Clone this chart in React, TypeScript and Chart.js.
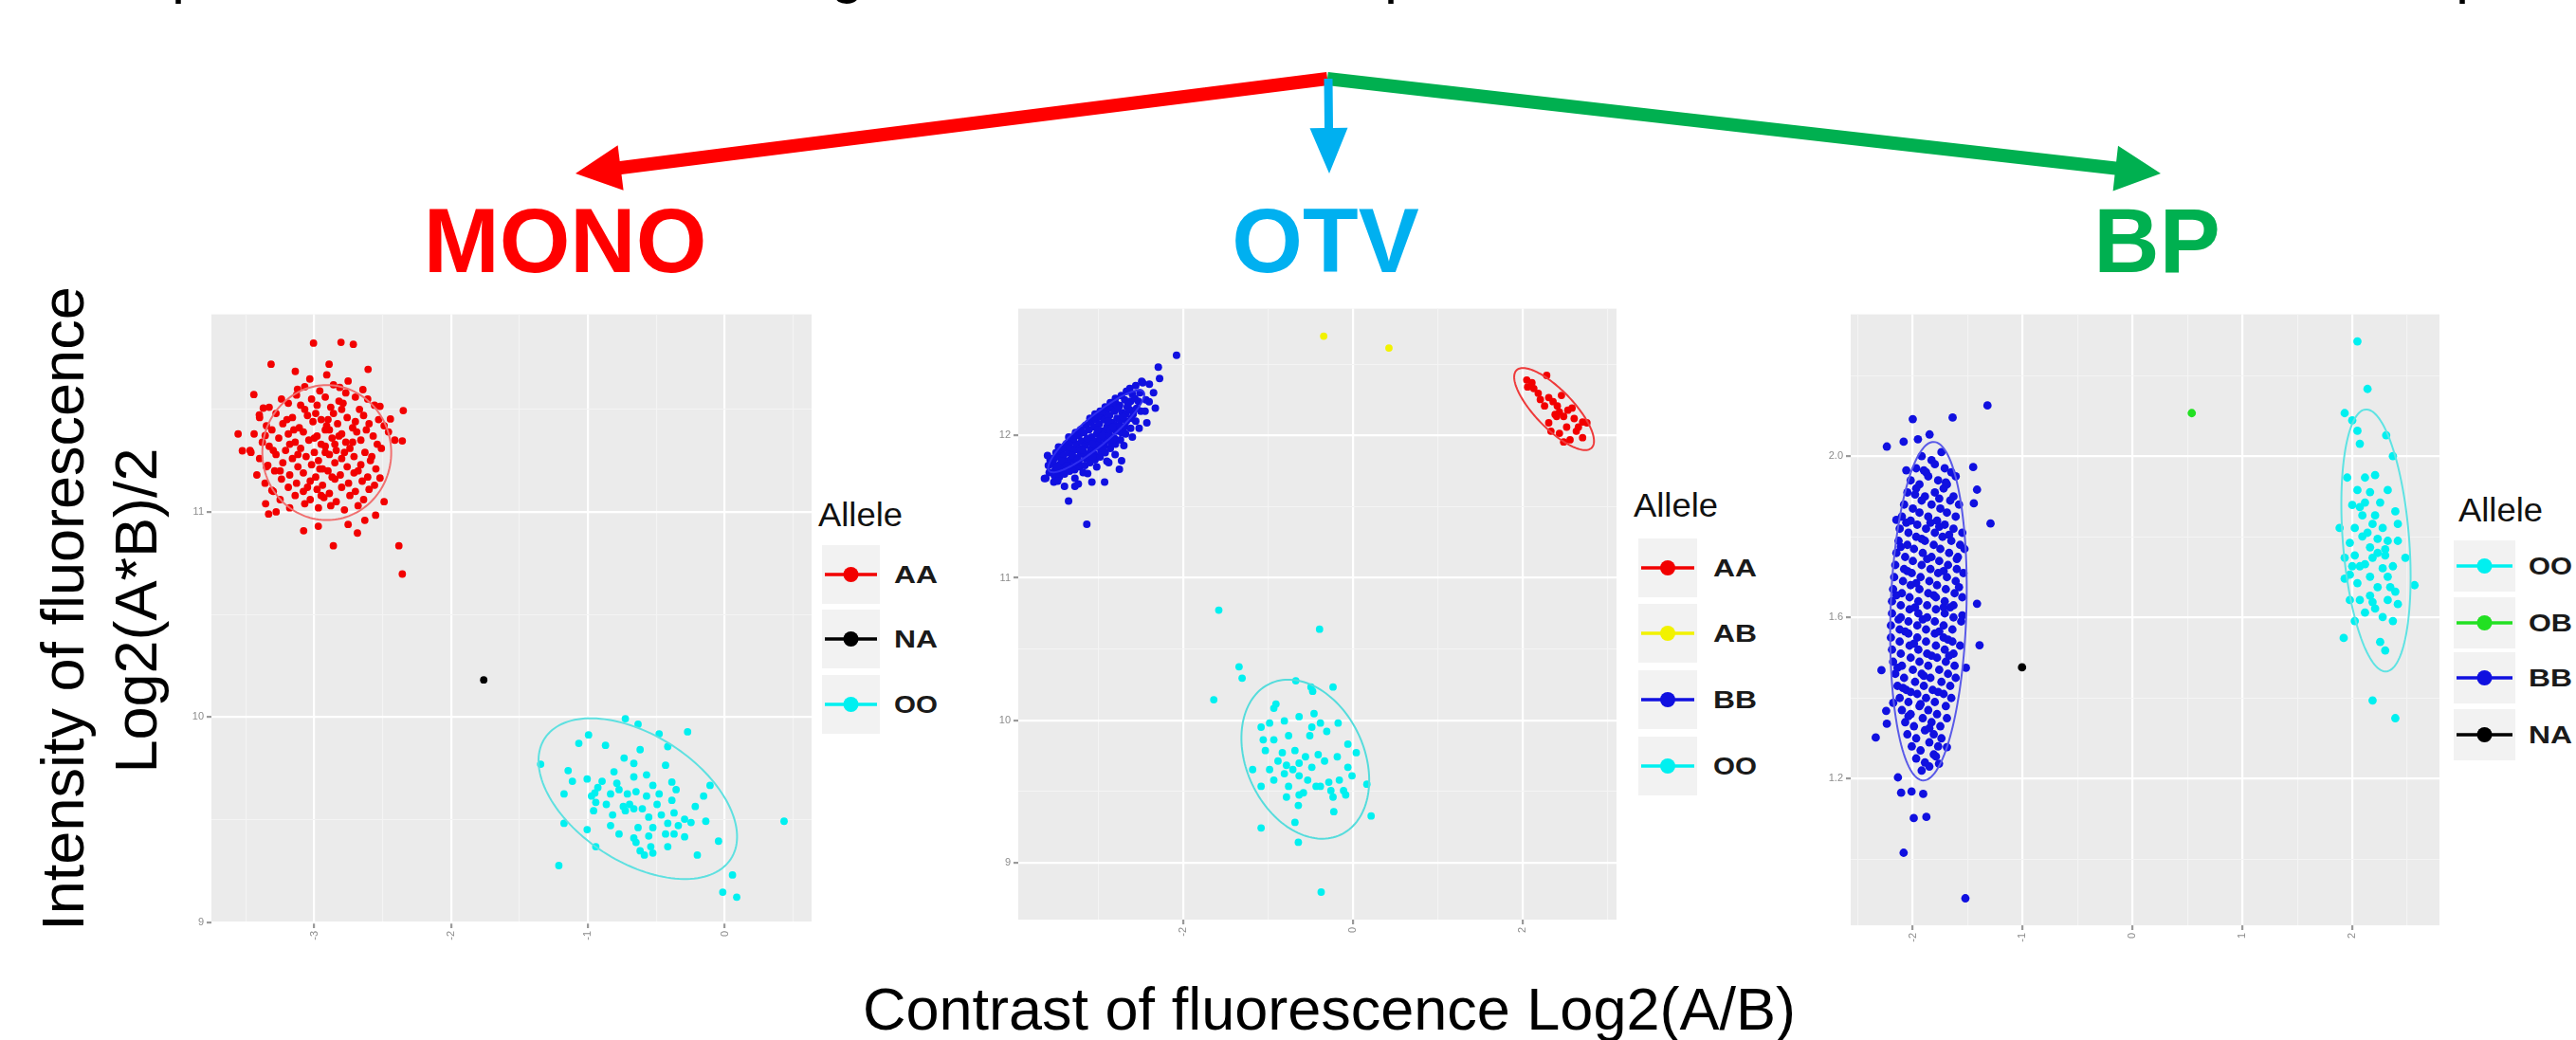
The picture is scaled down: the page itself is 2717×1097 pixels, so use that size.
import React, { useEffect, useRef } from "react";
import { Chart, registerables } from "chart.js";

Chart.register(...registerables);

type Pt = [number, number];
const FONT = "'Liberation Sans', Arial, Helvetica, sans-serif";
Chart.defaults.font.family = FONT;

// ======================= DATA =======================
// ---------- MONO ----------
const MONO_X_RANGE = [-3.752, 0.634];
const MONO_Y_RANGE = [8.994, 11.963];
const MONO_X_MAJOR = [-3, -2, -1, 0];
const MONO_X_MINOR = [-3.5, -2.5, -1.5, -0.5, 0.5];
const MONO_X_LABELS = ["-3", "-2", "-1", "0"];
const MONO_Y_MAJOR = [9, 10, 11];
const MONO_Y_MINOR = [9.5, 10.5, 11.5];
const MONO_Y_LABELS = ["9", "10", "11"];

const MONO_AA: Pt[] = [
  [-3.006, 11.823], [-2.805, 11.827], [-2.715, 11.817], [-3.316, 11.72], [-3.139, 11.685], [-2.607, 11.695],
  [-3.442, 11.572], [-3.557, 11.38], [-2.35, 11.494], [-2.357, 11.346], [-3.334, 10.99], [-3.078, 10.908],
  [-2.861, 10.835], [-2.685, 10.897], [-2.552, 10.984], [-2.49, 11.05], [-2.52, 11.165], [-3.526, 11.298],
  [-3.402, 11.473], [-2.382, 10.835], [-2.357, 10.697],
  [-2.892, 11.72], [-2.753, 11.638], [-2.645, 11.596], [-2.52, 11.515], [-2.444, 11.453], [-2.458, 11.39],
  [-2.412, 11.35], [-3.373, 11.506], [-3.359, 11.372], [-3.463, 11.29], [-3.34, 11.227], [-3.31, 11.105],
  [-3.356, 11.04], [-3.279, 11.0], [-2.971, 10.93], [-2.753, 10.939], [-2.631, 10.959], [-2.909, 11.668],
  [-3.033, 11.648], [-2.814, 11.607], [-3.123, 11.598],
  [-3.07, 11.61], [-2.96, 11.59], [-2.86, 11.62], [-2.77, 11.58],
  [-3.24, 11.55], [-3.13, 11.57], [-3.02, 11.55], [-2.92, 11.56], [-2.82, 11.54], [-2.7, 11.56], [-2.61, 11.55],
  [-3.33, 11.51], [-3.19, 11.53], [-3.07, 11.5], [-2.98, 11.52], [-2.88, 11.51], [-2.79, 11.53], [-2.67, 11.5], [-2.56, 11.52],
  [-3.4, 11.46], [-3.28, 11.48], [-3.16, 11.46], [-3.05, 11.47], [-2.95, 11.45], [-2.86, 11.48], [-2.76, 11.46], [-2.64, 11.47], [-2.53, 11.45],
  [-3.35, 11.42], [-3.23, 11.43], [-3.11, 11.41], [-3.01, 11.44], [-2.91, 11.42], [-2.83, 11.43], [-2.72, 11.41], [-2.6, 11.43], [-2.49, 11.42],
  [-3.44, 11.38], [-3.31, 11.4], [-3.19, 11.38], [-3.08, 11.39], [-2.98, 11.37], [-2.89, 11.4], [-2.8, 11.38], [-2.69, 11.39], [-2.57, 11.37],
  [-3.38, 11.34], [-3.26, 11.36], [-3.14, 11.34], [-3.04, 11.35], [-2.95, 11.33], [-2.87, 11.36], [-2.77, 11.34], [-2.66, 11.35], [-2.54, 11.33],
  [-3.47, 11.3], [-3.33, 11.32], [-3.21, 11.3], [-3.1, 11.31], [-3.0, 11.29], [-2.92, 11.32], [-2.84, 11.3], [-2.74, 11.31], [-2.63, 11.29], [-2.51, 11.31],
  [-3.4, 11.26], [-3.28, 11.28], [-3.16, 11.26], [-3.06, 11.27], [-2.97, 11.25], [-2.89, 11.28], [-2.8, 11.26], [-2.71, 11.27], [-2.59, 11.25],
  [-3.35, 11.22], [-3.23, 11.24], [-3.12, 11.22], [-3.02, 11.23], [-2.94, 11.21], [-2.85, 11.24], [-2.76, 11.22], [-2.66, 11.23], [-2.55, 11.21],
  [-3.42, 11.18], [-3.29, 11.2], [-3.18, 11.18], [-3.08, 11.19], [-2.99, 11.17], [-2.9, 11.2], [-2.81, 11.18], [-2.71, 11.19], [-2.61, 11.17],
  [-3.36, 11.14], [-3.24, 11.16], [-3.13, 11.14], [-3.03, 11.15], [-2.94, 11.13], [-2.85, 11.16], [-2.75, 11.14], [-2.65, 11.15], [-2.56, 11.13],
  [-3.3, 11.1], [-3.19, 11.12], [-3.08, 11.1], [-2.98, 11.11], [-2.89, 11.09], [-2.8, 11.12], [-2.7, 11.1], [-2.6, 11.11],
  [-3.25, 11.06], [-3.14, 11.08], [-3.03, 11.06], [-2.93, 11.07], [-2.84, 11.05], [-2.74, 11.08], [-2.64, 11.06],
  [-3.18, 11.02], [-3.07, 11.04], [-2.97, 11.02], [-2.88, 11.03], [-2.78, 11.01], [-2.68, 11.03],
  [-3.2, 11.45], [-2.9, 11.45], [-2.7, 11.44], [-3.0, 11.36], [-2.82, 11.37], [-2.92, 11.29], [-2.96, 11.21],
  [-2.78, 11.29], [-3.12, 11.28], [-2.87, 11.17], [-3.05, 11.12], [-2.92, 11.4], [-2.85, 11.33], [-3.15, 11.4],
  [-2.62, 11.4], [-3.3, 11.3], [-2.99, 11.48], [-2.8, 11.5], [-3.1, 11.52], [-2.72, 11.34], [-2.95, 11.08],
  [-3.25, 11.2], [-2.68, 11.2], [-3.18, 11.33], [-2.58, 11.27],
];
const MONO_NA: Pt[] = [[-1.762, 10.181]];
const MONO_OO: Pt[] = [
  [-0.727, 9.992], [-0.634, 9.965], [-0.48, 9.918], [-0.272, 9.928], [-0.996, 9.913], [-1.067, 9.872],
  [-0.872, 9.862], [-0.736, 9.8], [-0.619, 9.841], [-0.417, 9.856], [-1.346, 9.77], [-1.145, 9.739],
  [-1.006, 9.698], [-0.81, 9.733], [-0.665, 9.774], [-0.572, 9.718], [-0.433, 9.765], [-1.114, 9.687],
  [-0.928, 9.656], [-0.789, 9.677], [-0.665, 9.708], [-0.526, 9.667], [-0.387, 9.683], [-0.108, 9.667],
  [-1.175, 9.625], [-0.974, 9.615], [-0.835, 9.625], [-0.712, 9.625], [-0.649, 9.636], [-0.572, 9.615],
  [-0.48, 9.625], [-0.356, 9.646], [-0.155, 9.615], [-0.943, 9.584], [-0.866, 9.574], [-0.742, 9.564],
  [-0.696, 9.574], [-0.603, 9.553], [-0.495, 9.574], [-0.387, 9.594], [-0.216, 9.564], [-0.959, 9.543],
  [-0.82, 9.523], [-0.727, 9.543], [-0.665, 9.553], [-0.556, 9.512], [-0.464, 9.523], [-0.371, 9.533],
  [-0.294, 9.502], [-0.139, 9.492], [-1.175, 9.482], [-1.006, 9.451], [-0.835, 9.471], [-0.634, 9.461],
  [-0.526, 9.461], [-0.417, 9.482], [-0.34, 9.471], [-0.247, 9.486], [-0.773, 9.43], [-0.665, 9.41],
  [-0.556, 9.42], [-0.433, 9.43], [-0.294, 9.416], [-0.943, 9.368], [-0.649, 9.389], [-0.541, 9.368],
  [-0.417, 9.368], [-0.619, 9.348], [-0.588, 9.327], [-0.526, 9.337], [-0.201, 9.327], [-0.046, 9.395],
  [0.433, 9.492], [-1.213, 9.276], [0.056, 9.23], [-0.015, 9.146], [0.087, 9.122], [-0.95, 9.63],
  [-0.773, 9.646], [-0.897, 9.687], [-0.371, 9.43],
];
// ellipse: [cx, cy, ux, uy, vx, vy] (centre + conjugate semi-axes, data units)
const MONO_ELL_AA = [-2.909, 11.289, 0.471, 0, 0, 0.329];
const MONO_ELL_OO = [-0.636, 9.602, 0.68, -0.294, -0.253, -0.259];
const MONO_LEGEND = ["AA", "NA", "OO"];

// ---------- OTV ----------
const OTV_X_RANGE = [-3.945, 3.108];
const OTV_Y_RANGE = [8.599, 12.891];
const OTV_X_MAJOR = [-2, 0, 2];
const OTV_X_MINOR = [-3, -1, 1, 3];
const OTV_X_LABELS = ["-2", "0", "2"];
const OTV_Y_MAJOR = [9, 10, 11, 12];
const OTV_Y_MINOR = [9.5, 10.5, 11.5, 12.5];
const OTV_Y_LABELS = ["9", "10", "11", "12"];

const OTV_AA: Pt[] = [
  [2.111, 12.371], [2.285, 12.422], [2.185, 12.297], [2.309, 12.267], [2.459, 12.282], [2.41, 12.208],
  [2.584, 12.193], [2.26, 12.208], [2.384, 12.148], [2.485, 12.134], [2.609, 12.119], [2.708, 12.095],
  [2.309, 12.089], [2.52, 12.059], [2.56, 11.97], [2.708, 11.985], [2.335, 12.03], [2.435, 12.015],
  [2.634, 12.03], [2.21, 12.253], [2.36, 12.238], [2.534, 12.178], [2.659, 12.059], [2.485, 11.955],
  [2.759, 12.089], [2.06, 12.341], [2.435, 12.164], [2.402, 12.134], [2.05, 12.39], [2.133, 12.33],
];
const OTV_AB: Pt[] = [[-0.344, 12.698], [0.425, 12.615]];
const OTV_BB: Pt[] = [
  [-2.079, 12.564], [-2.294, 12.481], [-2.279, 12.401], [-2.329, 12.193], [-2.429, 12.089], [-2.753, 11.762],
  [-2.927, 11.673], [-3.077, 11.673], [-3.352, 11.54], [-3.137, 11.377], [-3.636, 11.697], [-3.277, 11.643],
  [-2.478, 12.371], [-2.402, 12.238], [-2.727, 11.822], [-3.526, 11.673], [-3.551, 11.837], [-3.451, 11.748],
  [-3.127, 11.733], [-2.878, 11.81], [-2.803, 11.866], [-3.277, 11.7], [-3.4, 11.643], [-3.237, 11.66],
  [-3.58, 11.74], [-3.59, 11.79], [-3.57, 11.83], [-3.6, 11.86],
  [-3.52, 11.72], [-3.51, 11.76], [-3.53, 11.8], [-3.52, 11.84], [-3.5, 11.88],
  [-3.46, 11.71], [-3.47, 11.76], [-3.45, 11.8], [-3.46, 11.85], [-3.44, 11.89], [-3.47, 11.92],
  [-3.4, 11.73], [-3.41, 11.77], [-3.39, 11.82], [-3.41, 11.86], [-3.4, 11.91], [-3.38, 11.94],
  [-3.34, 11.75], [-3.35, 11.79], [-3.33, 11.83], [-3.35, 11.88], [-3.34, 11.92], [-3.32, 11.96], [-3.35, 11.99],
  [-3.28, 11.76], [-3.27, 11.8], [-3.29, 11.85], [-3.28, 11.9], [-3.26, 11.94], [-3.29, 11.98], [-3.27, 12.02],
  [-3.22, 11.78], [-3.23, 11.82], [-3.21, 11.87], [-3.22, 11.91], [-3.2, 11.96], [-3.23, 12.0], [-3.21, 12.04],
  [-3.16, 11.79], [-3.15, 11.84], [-3.17, 11.88], [-3.16, 11.93], [-3.14, 11.97], [-3.17, 12.02], [-3.15, 12.07],
  [-3.1, 11.81], [-3.11, 11.86], [-3.09, 11.9], [-3.1, 11.95], [-3.08, 11.99], [-3.11, 12.04], [-3.09, 12.09], [-3.1, 12.12],
  [-3.04, 11.83], [-3.05, 11.87], [-3.03, 11.92], [-3.04, 11.96], [-3.02, 12.01], [-3.05, 12.06], [-3.03, 12.11], [-3.04, 12.15],
  [-2.98, 11.85], [-2.97, 11.89], [-2.99, 11.94], [-2.98, 11.98], [-2.96, 12.03], [-2.99, 12.08], [-2.97, 12.13], [-2.98, 12.17],
  [-2.92, 11.88], [-2.93, 11.93], [-2.91, 11.97], [-2.92, 12.02], [-2.9, 12.06], [-2.93, 12.11], [-2.91, 12.16], [-2.92, 12.2],
  [-2.86, 11.91], [-2.85, 11.95], [-2.87, 12.0], [-2.86, 12.04], [-2.84, 12.09], [-2.87, 12.14], [-2.85, 12.19], [-2.86, 12.23],
  [-2.8, 11.94], [-2.81, 11.98], [-2.79, 12.03], [-2.8, 12.07], [-2.78, 12.12], [-2.81, 12.17], [-2.79, 12.22], [-2.8, 12.26],
  [-2.74, 11.97], [-2.73, 12.02], [-2.75, 12.07], [-2.74, 12.11], [-2.72, 12.16], [-2.75, 12.21], [-2.73, 12.28],
  [-2.68, 12.01], [-2.69, 12.06], [-2.67, 12.1], [-2.68, 12.15], [-2.66, 12.2], [-2.69, 12.25], [-2.67, 12.31],
  [-2.62, 12.05], [-2.61, 12.12], [-2.63, 12.18], [-2.62, 12.24], [-2.6, 12.29], [-2.63, 12.33],
  [-2.56, 12.1], [-2.55, 12.19], [-2.57, 12.26], [-2.56, 12.35],
  [-2.5, 12.17], [-2.51, 12.3], [-2.49, 12.38],
  [-3.31, 11.86], [-3.19, 11.9], [-3.07, 11.94], [-2.95, 12.0], [-2.83, 12.06], [-2.71, 12.13], [-3.25, 11.83],
  [-3.13, 11.98], [-3.01, 12.04], [-2.89, 12.1], [-2.77, 12.19], [-2.65, 12.22], [-3.43, 11.82], [-3.37, 11.79],
  [-2.59, 12.15], [-2.53, 12.24], [-3.49, 11.78], [-2.95, 11.91], [-2.83, 11.97], [-3.07, 11.85],
  [-3.62, 11.7], [-3.48, 11.68], [-3.18, 11.74], [-3.02, 11.78], [-2.9, 11.82], [-2.7, 11.93], [-2.6, 11.99],
  [-2.52, 12.05], [-2.45, 12.17], [-2.44, 12.25], [-2.35, 12.3], [-2.4, 12.36],
];
const OTV_OO: Pt[] = [
  [-1.581, 10.773], [-0.393, 10.639], [-1.342, 10.375], [-1.306, 10.295], [-1.64, 10.144], [-0.673, 10.277],
  [-0.494, 10.233], [-0.234, 10.233], [-0.474, 10.203], [-0.907, 10.114], [-0.932, 10.084], [-1.082, 9.951],
  [-0.982, 9.98], [-0.808, 9.995], [-0.634, 10.025], [-0.458, 10.046], [-0.383, 9.98], [-0.174, 9.98],
  [-1.057, 9.862], [-0.932, 9.862], [-0.758, 9.891], [-0.508, 9.891], [-0.308, 9.921], [-0.059, 9.832],
  [0.04, 9.772], [-1.032, 9.787], [-0.832, 9.772], [-0.683, 9.787], [-0.559, 9.743], [-0.409, 9.758],
  [-0.334, 9.713], [-0.184, 9.743], [-0.883, 9.713], [-0.783, 9.683], [-0.634, 9.698], [-0.484, 9.669],
  [-0.808, 9.624], [-0.634, 9.609], [-0.434, 9.535], [-0.284, 9.564], [-0.16, 9.579], [-0.01, 9.609],
  [-1.082, 9.535], [-0.932, 9.579], [-0.758, 9.535], [-0.583, 9.49], [-0.383, 9.535], [-0.259, 9.505],
  [-0.11, 9.505], [0.165, 9.55], [-0.783, 9.46], [-0.634, 9.475], [-0.234, 9.46], [-0.085, 9.475],
  [-0.643, 9.401], [-0.225, 9.357], [0.215, 9.327], [-0.683, 9.282], [-1.082, 9.243], [-0.643, 9.142],
  [-0.374, 8.792], [-0.484, 9.951], [-0.982, 9.653], [-0.708, 9.653], [-0.533, 9.579], [-1.182, 9.653],
  [-0.059, 9.669],
];
const OTV_ELL_AA = [2.372, 12.186, 0.442, -0.273, -0.161, -0.0925];
const OTV_ELL_BB = [-3.026, 12.03, 0.556, 0.278, 0.108, -0.0765];
const OTV_ELL_OO = [-0.561, 9.726, 0.416, -0.531, -0.628, -0.174];
const OTV_LEGEND = ["AA", "AB", "BB", "OO"];

// ---------- BP ----------
const BP_X_RANGE = [-2.566, 2.794];
const BP_Y_RANGE = [0.836, 2.352];
const BP_X_MAJOR = [-2, -1, 0, 1, 2];
const BP_X_MINOR = [-2.5, -1.5, -0.5, 0.5, 1.5, 2.5];
const BP_X_LABELS = ["-2", "-1", "0", "1", "2"];
const BP_Y_MAJOR = [1.2, 1.6, 2.0];
const BP_Y_MINOR = [1.0, 1.4, 1.8, 2.2];
const BP_Y_LABELS = ["1.2", "1.6", "2.0"];

const BP_OO: Pt[] = [
  [2.047, 2.285], [2.139, 2.167], [1.931, 2.107], [2.0, 2.089], [2.047, 2.063], [2.309, 2.052], [2.069, 2.031],
  [2.37, 2.0], [1.954, 1.947], [2.116, 1.947], [2.208, 1.953], [2.047, 1.916], [2.162, 1.911], [2.323, 1.916],
  [2.0, 1.879], [2.254, 1.885], [2.392, 1.863], [2.092, 1.853], [2.185, 1.832], [2.023, 1.822], [2.277, 1.822],
  [2.092, 1.801], [2.231, 1.795], [2.323, 1.79], [2.415, 1.79], [1.978, 1.785], [2.162, 1.774], [2.3, 1.769],
  [2.023, 1.754], [1.931, 1.748], [2.185, 1.748], [2.484, 1.748], [2.116, 1.732], [2.277, 1.722], [2.37, 1.727],
  [1.978, 1.706], [2.162, 1.701], [2.323, 1.701], [1.931, 1.696], [2.567, 1.68], [2.047, 1.685], [2.231, 1.675],
  [2.392, 1.664], [1.978, 1.643], [2.069, 1.643], [2.185, 1.638], [2.323, 1.643], [2.415, 1.633], [2.116, 1.612],
  [2.277, 1.601], [2.37, 1.591], [1.922, 1.549], [2.254, 1.539], [2.3, 1.518], [2.185, 1.394], [2.392, 1.35],
  [2.0, 1.727], [2.415, 1.832], [1.885, 1.822], [2.069, 1.874], [2.116, 1.885], [2.208, 1.853], [2.231, 1.76],
  [2.069, 1.727], [2.162, 1.654], [2.346, 1.675], [2.023, 1.591], [2.208, 1.622], [2.3, 1.754], [2.139, 1.81],
];
const BP_OB: Pt[] = [[0.539, 2.107]];
const BP_BB: Pt[] = [
  [-1.321, 2.126], [-1.638, 2.096], [-2.001, 2.092], [-2.237, 2.024], [-2.084, 2.036], [-1.954, 2.042],
  [-1.848, 2.054], [-1.451, 1.973], [-1.416, 1.917], [-1.445, 1.883], [-1.293, 1.833], [-2.15, 1.842],
  [-2.286, 1.469], [-2.338, 1.302], [-2.237, 1.336], [-2.243, 1.368], [-2.179, 1.388], [-1.416, 1.634],
  [-1.393, 1.531], [-1.517, 1.475], [-1.69, 1.278], [-1.762, 1.237], [-2.136, 1.203], [-2.107, 1.165],
  [-2.012, 1.168], [-1.906, 1.162], [-1.992, 1.102], [-1.877, 1.105], [-2.084, 1.016], [-1.522, 0.903],
  [-1.92, 2.0], [-1.83, 1.99], [-1.74, 2.01],
  [-1.97, 1.97], [-1.88, 1.96], [-1.8, 1.98], [-1.71, 1.97], [-1.65, 1.96],
  [-2.02, 1.94], [-1.94, 1.93], [-1.86, 1.95], [-1.77, 1.94], [-1.69, 1.93], [-1.61, 1.95],
  [-2.05, 1.91], [-1.97, 1.92], [-1.89, 1.9], [-1.8, 1.91], [-1.72, 1.92], [-1.63, 1.9],
  [-2.08, 1.88], [-2.0, 1.87], [-1.92, 1.89], [-1.83, 1.88], [-1.75, 1.87], [-1.66, 1.89], [-1.58, 1.88],
  [-2.1, 1.85], [-2.02, 1.84], [-1.94, 1.86], [-1.86, 1.85], [-1.78, 1.84], [-1.69, 1.86], [-1.61, 1.85],
  [-2.12, 1.82], [-2.04, 1.81], [-1.96, 1.83], [-1.88, 1.82], [-1.8, 1.81], [-1.71, 1.83], [-1.63, 1.82], [-1.55, 1.81],
  [-2.13, 1.79], [-2.05, 1.78], [-1.97, 1.8], [-1.89, 1.79], [-1.81, 1.78], [-1.73, 1.8], [-1.65, 1.79], [-1.57, 1.78],
  [-2.15, 1.76], [-2.07, 1.75], [-1.99, 1.77], [-1.91, 1.76], [-1.83, 1.75], [-1.75, 1.77], [-1.67, 1.76], [-1.59, 1.75], [-1.53, 1.77],
  [-2.16, 1.73], [-2.08, 1.72], [-2.0, 1.74], [-1.92, 1.73], [-1.84, 1.72], [-1.76, 1.74], [-1.68, 1.73], [-1.6, 1.72],
  [-2.17, 1.7], [-2.09, 1.69], [-2.01, 1.71], [-1.93, 1.7], [-1.85, 1.69], [-1.77, 1.71], [-1.69, 1.7], [-1.61, 1.69], [-1.54, 1.71],
  [-2.18, 1.67], [-2.1, 1.66], [-2.02, 1.68], [-1.94, 1.67], [-1.86, 1.66], [-1.78, 1.68], [-1.7, 1.67], [-1.62, 1.66],
  [-2.19, 1.64], [-2.11, 1.63], [-2.03, 1.65], [-1.95, 1.64], [-1.87, 1.63], [-1.79, 1.65], [-1.71, 1.64], [-1.63, 1.63], [-1.55, 1.65],
  [-2.19, 1.61], [-2.11, 1.6], [-2.03, 1.62], [-1.95, 1.61], [-1.87, 1.6], [-1.79, 1.62], [-1.71, 1.61], [-1.63, 1.6],
  [-2.2, 1.58], [-2.12, 1.57], [-2.04, 1.59], [-1.96, 1.58], [-1.88, 1.57], [-1.8, 1.59], [-1.72, 1.58], [-1.64, 1.57], [-1.56, 1.59],
  [-2.2, 1.55], [-2.12, 1.54], [-2.04, 1.56], [-1.96, 1.55], [-1.88, 1.54], [-1.8, 1.56], [-1.72, 1.55], [-1.64, 1.54],
  [-2.19, 1.52], [-2.11, 1.51], [-2.03, 1.53], [-1.95, 1.52], [-1.87, 1.51], [-1.79, 1.53], [-1.71, 1.52], [-1.63, 1.51], [-1.57, 1.53],
  [-2.18, 1.49], [-2.1, 1.48], [-2.02, 1.5], [-1.94, 1.49], [-1.86, 1.48], [-1.78, 1.5], [-1.7, 1.49], [-1.62, 1.48],
  [-2.16, 1.46], [-2.08, 1.45], [-2.0, 1.47], [-1.92, 1.46], [-1.84, 1.45], [-1.76, 1.47], [-1.68, 1.46], [-1.61, 1.45],
  [-2.14, 1.43], [-2.06, 1.42], [-1.98, 1.44], [-1.9, 1.43], [-1.82, 1.42], [-1.74, 1.44], [-1.66, 1.43],
  [-2.12, 1.4], [-2.04, 1.39], [-1.96, 1.41], [-1.88, 1.4], [-1.8, 1.39], [-1.72, 1.41], [-1.65, 1.4],
  [-2.1, 1.37], [-2.02, 1.36], [-1.94, 1.38], [-1.86, 1.37], [-1.78, 1.36], [-1.7, 1.38],
  [-2.07, 1.34], [-1.99, 1.33], [-1.91, 1.35], [-1.83, 1.34], [-1.75, 1.33], [-1.69, 1.35],
  [-2.05, 1.31], [-1.97, 1.3], [-1.89, 1.32], [-1.81, 1.31], [-1.74, 1.3],
  [-2.01, 1.28], [-1.93, 1.27], [-1.85, 1.29], [-1.77, 1.28],
  [-1.97, 1.25], [-1.89, 1.24], [-1.81, 1.26],
  [-1.92, 1.22], [-1.85, 1.23],
  [-2.06, 1.965], [-1.98, 1.905], [-1.76, 1.895], [-2.06, 1.835], [-1.84, 1.835], [-1.67, 1.805], [-2.11, 1.775],
  [-1.87, 1.745], [-1.72, 1.715], [-2.05, 1.715], [-1.97, 1.685], [-1.81, 1.655], [-2.15, 1.655], [-1.66, 1.625],
  [-1.91, 1.595], [-2.07, 1.565], [-1.76, 1.565], [-1.99, 1.535], [-1.83, 1.505], [-1.67, 1.505], [-2.14, 1.475],
  [-1.9, 1.455], [-2.02, 1.415], [-1.77, 1.415], [-1.93, 1.385], [-1.85, 1.325], [-2.04, 1.355], [-1.79, 1.255],
  [-1.72, 1.625], [-1.98, 1.625], [-1.6, 1.745], [-2.13, 1.595], [-1.92, 1.795], [-1.76, 1.825], [-1.68, 1.545],
  [-2.09, 1.425], [-1.58, 1.675], [-1.7, 1.935], [-1.9, 1.965], [-1.55, 1.605],
];
const BP_NA: Pt[] = [[-1.006, 1.476]];
const BP_ELL_BB = [-1.858, 1.6155, -0.049, -0.42, 0.345, -0.003];
const BP_ELL_OO = [2.216, 1.791, 0.094, -0.325, 0.301, 0.0064];
const BP_LEGEND = ["OO", "OB", "BB", "NA"];

// ---------- colours ----------
const C_RED = "#F20000";
const C_CYAN = "#00F0F0";
const C_BLUE = "#1010E0";
const C_YEL = "#F2F200";
const C_GREEN = "#22E022";
const C_BLACK = "#000000";

// ======================= CHART =======================
const PAD_L = 50;
const PAD_T = 8;
const PAD_R = 8;
const PAD_B = 50;

function axisCfg(range: number[], major: number[], minor: number[], labels: string[], isX: boolean) {
  const all = [...major, ...minor].sort((a, b) => a - b);
  const isMajor = (c: any) => c && c.tick && major.indexOf(c.tick.value) >= 0;
  return {
    type: "linear",
    position: isX ? "bottom" : "left",
    min: range[0],
    max: range[1],
    afterBuildTicks: (s: any) => {
      s.ticks = all.map((v) => ({ value: v }));
    },
    afterFit: (s: any) => {
      if (isX) s.height = PAD_B;
      else s.width = PAD_L;
    },
    grid: {
      color: (c: any) => (isMajor(c) ? "#FFFFFF" : "#F4F4F4"),
      lineWidth: (c: any) => (isMajor(c) ? 2.2 : 1.1),
      tickColor: (c: any) => (isMajor(c) ? "#9A9A9A" : "rgba(0,0,0,0)"),
      tickLength: 5,
      drawTicks: true,
    },
    border: { display: false },
    ticks: {
      autoSkip: false,
      padding: 3,
      color: "#8C8C8C",
      font: { size: 11, family: FONT },
      minRotation: isX ? 90 : 0,
      maxRotation: isX ? 90 : 0,
      callback: (v: any) => {
        const i = major.indexOf(Number(v));
        return i >= 0 ? labels[i] : "";
      },
    },
  };
}

interface Series { pts: Pt[]; color: string; r: number }
interface PanelSpec {
  left: number; top: number; right: number; bottom: number;
  xRange: number[]; yRange: number[];
  xMajor: number[]; xMinor: number[]; xLabels: string[];
  yMajor: number[]; yMinor: number[]; yLabels: string[];
  series: Series[];
  ellipses: { e: number[]; color: string }[];
}

function Panel({ spec }: { spec: PanelSpec }) {
  const ref = useRef<HTMLCanvasElement>(null);
  const w = spec.right - spec.left + PAD_L + PAD_R;
  const h = spec.bottom - spec.top + PAD_T + PAD_B;
  useEffect(() => {
    if (!ref.current) return;
    const bgPlugin = {
      id: "panelBg",
      beforeDraw(chart: any) {
        const { ctx, chartArea: a } = chart;
        ctx.save();
        ctx.fillStyle = "#EBEBEB";
        ctx.fillRect(a.left, a.top, a.right - a.left, a.bottom - a.top);
        ctx.restore();
      },
    };
    const ellPlugin = {
      id: "ellipses",
      afterDatasetsDraw(chart: any) {
        const { ctx, chartArea: a } = chart;
        const xs = chart.scales.x;
        const ys = chart.scales.y;
        ctx.save();
        ctx.beginPath();
        ctx.rect(a.left, a.top, a.right - a.left, a.bottom - a.top);
        ctx.clip();
        for (const el of spec.ellipses) {
          const [cx, cy, ux, uy, vx, vy] = el.e;
          ctx.beginPath();
          for (let k = 0; k <= 144; k++) {
            const t = (k / 144) * Math.PI * 2;
            const px = xs.getPixelForValue(cx + ux * Math.cos(t) + vx * Math.sin(t));
            const py = ys.getPixelForValue(cy + uy * Math.cos(t) + vy * Math.sin(t));
            if (k === 0) ctx.moveTo(px, py);
            else ctx.lineTo(px, py);
          }
          ctx.closePath();
          ctx.strokeStyle = el.color;
          ctx.lineWidth = 2;
          ctx.stroke();
        }
        ctx.restore();
      },
    };
    const chart = new Chart(ref.current, {
      type: "scatter",
      data: {
        datasets: spec.series.map((s) => ({
          data: s.pts.map(([x, y]) => ({ x, y })),
          pointRadius: s.r,
          pointHoverRadius: s.r,
          backgroundColor: s.color,
          borderColor: s.color,
          borderWidth: 0,
          pointBorderWidth: 0,
        })),
      },
      options: {
        responsive: false,
        maintainAspectRatio: false,
        animation: false,
        devicePixelRatio: 1,
        events: [],
        layout: { padding: { top: PAD_T, right: PAD_R, left: 0, bottom: 0 } },
        plugins: { legend: { display: false }, tooltip: { enabled: false } },
        scales: {
          x: axisCfg(spec.xRange, spec.xMajor, spec.xMinor, spec.xLabels, true),
          y: axisCfg(spec.yRange, spec.yMajor, spec.yMinor, spec.yLabels, false),
        } as any,
      },
      plugins: [bgPlugin, ellPlugin],
    } as any);
    return () => chart.destroy();
  }, []);
  return (
    <canvas
      ref={ref}
      width={w}
      height={h}
      style={{ position: "absolute", left: spec.left - PAD_L, top: spec.top - PAD_T, width: w, height: h }}
    />
  );
}

// ======================= DECORATION =======================
function arrowPoints(x1: number, y1: number, x2: number, y2: number, shaft: number, headL: number, headW: number) {
  const dx = x2 - x1, dy = y2 - y1, L = Math.hypot(dx, dy);
  const ux = dx / L, uy = dy / L, nx = -uy, ny = ux;
  const bx = x2 - ux * headL, by = y2 - uy * headL;
  const s = shaft / 2;
  const p = [
    [x1 + nx * s, y1 + ny * s],
    [bx + nx * s, by + ny * s],
    [bx + nx * headW, by + ny * headW],
    [x2, y2],
    [bx - nx * headW, by - ny * headW],
    [bx - nx * s, by - ny * s],
    [x1 - nx * s, y1 - ny * s],
  ];
  return p.map((q) => q[0].toFixed(1) + "," + q[1].toFixed(1)).join(" ");
}

interface LegendSpec {
  titleX: number; titleY: number; boxX: number; boxW: number; boxH: number;
  tops: number[]; labelX: number; names: string[]; colors: string[];
}

function Legend({ L }: { L: LegendSpec }) {
  return (
    <g>
      <text x={L.titleX} y={L.titleY} fontSize={35} textLength={89} lengthAdjust="spacingAndGlyphs" fill="#111" fontFamily={FONT}>
        Allele
      </text>
      {L.names.map((n, i) => {
        const cy = L.tops[i] + L.boxH / 2;
        return (
          <g key={n}>
            <rect x={L.boxX} y={L.tops[i]} width={L.boxW} height={L.boxH} fill="#F2F2F2" />
            <line x1={L.boxX + 3} x2={L.boxX + L.boxW - 3} y1={cy} y2={cy} stroke={L.colors[i]} strokeWidth={3.5} />
            <circle cx={L.boxX + L.boxW / 2} cy={cy} r={8} fill={L.colors[i]} />
            <text x={L.labelX} y={cy + 9} fontSize={26} fontWeight="bold" textLength={46} lengthAdjust="spacingAndGlyphs" fill="#1a1a1a" fontFamily={FONT}>
              {n}
            </text>
          </g>
        );
      })}
    </g>
  );
}

const MONO_SPEC: PanelSpec = {
  left: 223, top: 330, right: 856, bottom: 974,
  xRange: MONO_X_RANGE, yRange: MONO_Y_RANGE,
  xMajor: MONO_X_MAJOR, xMinor: MONO_X_MINOR, xLabels: MONO_X_LABELS,
  yMajor: MONO_Y_MAJOR, yMinor: MONO_Y_MINOR, yLabels: MONO_Y_LABELS,
  series: [
    { pts: MONO_AA, color: C_RED, r: 3.9 },
    { pts: MONO_NA, color: C_BLACK, r: 3.9 },
    { pts: MONO_OO, color: C_CYAN, r: 3.9 },
  ],
  ellipses: [
    { e: MONO_ELL_AA, color: "#F07070" },
    { e: MONO_ELL_OO, color: "#5EE0E0" },
  ],
};

const OTV_SPEC: PanelSpec = {
  left: 1074, top: 324, right: 1705, bottom: 970,
  xRange: OTV_X_RANGE, yRange: OTV_Y_RANGE,
  xMajor: OTV_X_MAJOR, xMinor: OTV_X_MINOR, xLabels: OTV_X_LABELS,
  yMajor: OTV_Y_MAJOR, yMinor: OTV_Y_MINOR, yLabels: OTV_Y_LABELS,
  series: [
    { pts: OTV_AA, color: C_RED, r: 3.9 },
    { pts: OTV_AB, color: C_YEL, r: 3.9 },
    { pts: OTV_BB, color: C_BLUE, r: 4 },
    { pts: OTV_OO, color: C_CYAN, r: 3.9 },
  ],
  ellipses: [
    { e: OTV_ELL_AA, color: "#EE3A3A" },
    { e: OTV_ELL_BB, color: "#2E2EF0" },
    { e: OTV_ELL_OO, color: "#55DCDC" },
  ],
};

const BP_SPEC: PanelSpec = {
  left: 1952, top: 330, right: 2573, bottom: 976,
  xRange: BP_X_RANGE, yRange: BP_Y_RANGE,
  xMajor: BP_X_MAJOR, xMinor: BP_X_MINOR, xLabels: BP_X_LABELS,
  yMajor: BP_Y_MAJOR, yMinor: BP_Y_MINOR, yLabels: BP_Y_LABELS,
  series: [
    { pts: BP_OO, color: C_CYAN, r: 4.4 },
    { pts: BP_OB, color: C_GREEN, r: 4.4 },
    { pts: BP_BB, color: C_BLUE, r: 4.4 },
    { pts: BP_NA, color: C_BLACK, r: 4.4 },
  ],
  ellipses: [
    { e: BP_ELL_BB, color: "#5A5AE8" },
    { e: BP_ELL_OO, color: "#5EE3E3" },
  ],
};

const MONO_LEG: LegendSpec = {
  titleX: 863, titleY: 555, boxX: 867, boxW: 61, boxH: 62, tops: [575, 643, 712], labelX: 943,
  names: MONO_LEGEND, colors: [C_RED, C_BLACK, C_CYAN],
};
const OTV_LEG: LegendSpec = {
  titleX: 1723, titleY: 545, boxX: 1728, boxW: 62, boxH: 62, tops: [568, 637, 707, 777], labelX: 1807,
  names: OTV_LEGEND, colors: [C_RED, C_YEL, C_BLUE, C_CYAN],
};
const BP_LEG: LegendSpec = {
  titleX: 2593, titleY: 550, boxX: 2588, boxW: 65, boxH: 54, tops: [570, 630, 688, 748], labelX: 2667,
  names: BP_LEGEND, colors: [C_CYAN, C_GREEN, C_BLUE, C_BLACK],
};

export default function App() {
  useEffect(() => {
    document.body.style.margin = "0";
  }, []);
  return (
    <div style={{ position: "absolute", left: 0, top: 0, width: 2717, height: 1097, overflow: "hidden", background: "#FFFFFF", fontFamily: FONT }}>
      <svg width={2717} height={1097} style={{ position: "absolute", left: 0, top: 0 }} fontFamily={FONT}>
        {/* cut-off line of text at the very top */}
        <text x={181} y={-9} fontSize={63} fill="#000">p</text>
        <text x={876} y={-9} fontSize={63} fill="#000">g</text>
        <text x={1460} y={-9} fontSize={63} fill="#000">p</text>
        <text x={2590} y={-9} fontSize={63} fill="#000">p</text>
        {/* arrows */}
        <polygon points={arrowPoints(1400, 83, 607, 183, 14, 48, 24)} fill="#FF0000" />
        <polygon points={arrowPoints(1400, 83, 2279, 183, 14, 48, 24)} fill="#00B050" />
        <polygon points={arrowPoints(1401, 83, 1402, 183, 9, 48, 20)} fill="#00B0F0" />
        {/* titles */}
        <text x={596} y={287} fontSize={96} fontWeight="bold" textAnchor="middle" fill="#FF0000">MONO</text>
        <text x={1398} y={287} fontSize={96} fontWeight="bold" textAnchor="middle" fill="#00B0F0">OTV</text>
        <text x={2275} y={287} fontSize={96} fontWeight="bold" textAnchor="middle" fill="#00B050">BP</text>
        {/* axis titles */}
        <text transform="translate(88,642) rotate(-90)" fontSize={63} textAnchor="middle" fill="#000">
          Intensity of fluorescence
        </text>
        <text transform="translate(165,644) rotate(-90)" fontSize={63} textAnchor="middle" fill="#000">
          Log2(A*B)/2
        </text>
        <text x={1402} y={1086} fontSize={63} textAnchor="middle" fill="#000">
          Contrast of fluorescence Log2(A/B)
        </text>
        <Legend L={MONO_LEG} />
        <Legend L={OTV_LEG} />
        <Legend L={BP_LEG} />
      </svg>
      <Panel spec={MONO_SPEC} />
      <Panel spec={OTV_SPEC} />
      <Panel spec={BP_SPEC} />
    </div>
  );
}
